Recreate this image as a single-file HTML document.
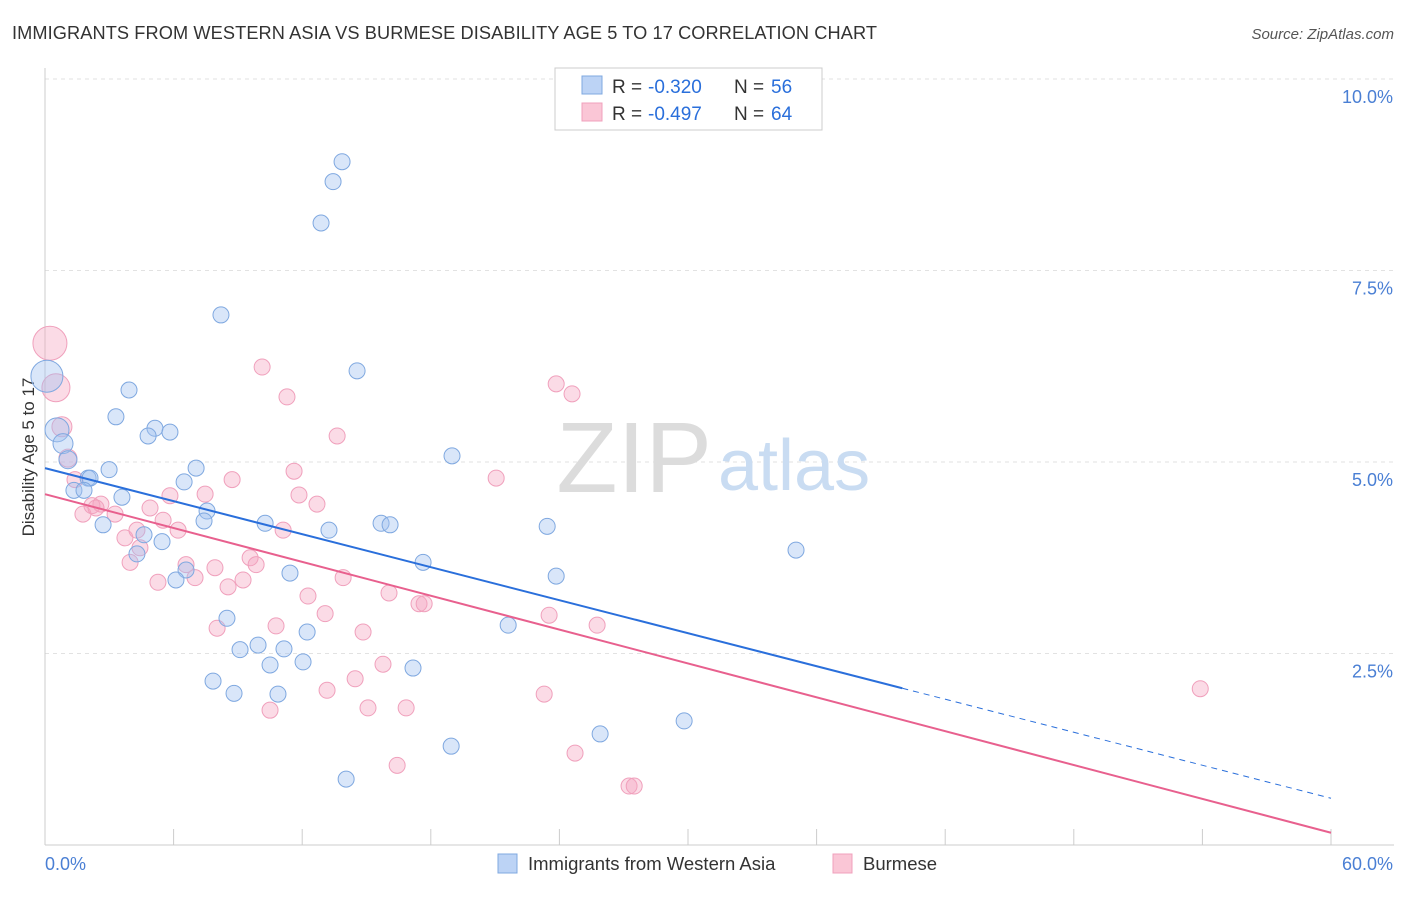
<!DOCTYPE html>
<html><head><meta charset="utf-8"><style>
body{margin:0;background:#fff;font-family:"Liberation Sans",sans-serif;}
svg text{font-family:"Liberation Sans",sans-serif;}
</style></head><body>
<svg width="1406" height="892" xmlns="http://www.w3.org/2000/svg">
<text x="12" y="39" font-size="18.2" fill="#333" textLength="865">IMMIGRANTS FROM WESTERN ASIA VS BURMESE DISABILITY AGE 5 TO 17 CORRELATION CHART</text>
<text x="1394" y="39" font-size="15" fill="#555" font-style="italic" text-anchor="end">Source: ZipAtlas.com</text>
<g id="grid"></g>
<text x="712" y="492" font-size="100" fill="#dcdcdc" text-anchor="end" font-family="Liberation Serif">ZIP</text>
<text x="718" y="490" font-size="72" fill="#c9dcf2">atlas</text>
<text transform="translate(34,457) rotate(-90)" font-size="17" fill="#333" text-anchor="middle">Disability Age 5 to 17</text>
<g id="pts"></g>
<g id="lines"></g>
<g>
<rect x="555" y="68" width="267" height="62" fill="#fff" stroke="#ccc"/>
<rect x="582" y="76" width="20" height="18" fill="#bcd3f5" stroke="#7fa8e0"/>
<rect x="582" y="103" width="20" height="18" fill="#fac6d6" stroke="#f0a0bc"/>
<text x="612" y="93" font-size="19" fill="#333">R =</text>
<text x="648" y="93" font-size="19" fill="#2a6fdb">-0.320</text>
<text x="734" y="93" font-size="19" fill="#333">N =</text>
<text x="771" y="93" font-size="19" fill="#2a6fdb">56</text>
<text x="612" y="120" font-size="19" fill="#333">R =</text>
<text x="648" y="120" font-size="19" fill="#2a6fdb">-0.497</text>
<text x="734" y="120" font-size="19" fill="#333">N =</text>
<text x="771" y="120" font-size="19" fill="#2a6fdb">64</text>
</g>
<g>
<rect x="498" y="854" width="19" height="19" fill="#bcd3f5" stroke="#7fa8e0"/>
<text x="528" y="870" font-size="18.5" fill="#333">Immigrants from Western Asia</text>
<rect x="833" y="854" width="19" height="19" fill="#fac6d6" stroke="#f0a0bc"/>
<text x="863" y="870" font-size="18.5" fill="#333">Burmese</text>
</g>
</svg>
<script>
const blueX=[13.86,13.44,12.88,8.21,14.56,3.92,3.31,5.13,5.83,4.81,0.56,0.84,1.07,2.99,2.01,2.10,7.05,6.49,1.35,1.82,3.59,7.56,7.42,2.71,10.27,13.25,15.68,16.10,18.99,23.43,4.62,5.46,4.29,17.64,11.43,23.85,6.58,6.11,35.04,8.49,12.23,21.61,9.94,11.15,9.10,10.50,12.04,17.17,7.84,8.82,10.87,29.82,25.90,18.95,14.05,0.09];
const blueY=[8.92,8.66,8.12,6.92,6.19,5.94,5.59,5.44,5.39,5.34,5.42,5.24,5.03,4.90,4.79,4.79,4.92,4.74,4.63,4.63,4.54,4.36,4.23,4.18,4.20,4.11,4.20,4.18,5.08,4.16,4.05,3.96,3.80,3.69,3.55,3.51,3.59,3.46,3.85,2.96,2.78,2.87,2.61,2.56,2.55,2.35,2.39,2.31,2.14,1.98,1.97,1.62,1.45,1.29,0.86,6.12];
const blueR=[8,8,8,8,8,8,8,8,8,8,12,10,9,8,8,8,8,8,8,8,8,8,8,8,8,8,8,8,8,8,8,8,8,8,8,8,8,8,8,8,8,8,8,8,8,8,8,8,8,8,8,8,8,8,8,16];
const pinkX=[0.23,0.51,0.79,1.07,1.40,1.77,2.19,2.61,3.27,2.38,3.73,3.97,4.43,4.29,4.90,5.27,5.83,5.51,6.21,6.58,7.00,7.47,7.93,8.03,8.54,8.73,9.24,9.57,9.85,10.13,10.50,10.78,11.11,11.29,11.62,11.85,12.27,12.69,13.07,13.16,13.63,13.91,14.47,14.84,15.07,15.77,16.05,16.85,16.43,17.45,17.69,21.05,23.85,24.59,23.52,23.29,24.73,25.76,27.25,27.49,53.90];
const pinkY=[6.55,5.97,5.46,5.05,4.77,4.32,4.43,4.45,4.32,4.40,4.01,3.69,3.88,4.11,4.40,3.43,4.56,4.24,4.11,3.66,3.49,4.58,3.62,2.83,3.37,4.77,3.46,3.75,3.66,6.24,1.76,2.86,4.11,5.85,4.88,4.57,3.25,4.45,3.02,2.02,5.34,3.49,2.17,2.78,1.79,2.36,3.29,1.79,1.04,3.15,3.15,4.79,6.02,5.89,3.00,1.97,1.20,2.87,0.77,0.77,2.04];
const pinkR=[17,14,10,9,8,8,8,8,8,8,8,8,8,8,8,8,8,8,8,8,8,8,8,8,8,8,8,8,8,8,8,8,8,8,8,8,8,8,8,8,8,8,8,8,8,8,8,8,8,8,8,8,8,8,8,8,8,8,8,8,8];
const yTicks=[2.5,5.0,7.5,10.0];
const xTickCount=10;
const blueLine=[4.92,0.61], blueSolidEnd=40;
const pinkLine=[4.58,0.16];
const NS="http://www.w3.org/2000/svg";
const sx=v=>45+v*(1331-45)/60, sy=v=>845-v*(845-79)/10;
function mk(t,a,p){const e=document.createElementNS(NS,t);for(const k in a)e.setAttribute(k,a[k]);p.appendChild(e);return e;}
const grid=document.getElementById('grid');
yTicks.forEach(t=>{
 const l=mk('line',{x1:45,x2:1394,y1:sy(t),y2:sy(t),stroke:'#e2e2e2','stroke-dasharray':'4,4'},grid);
 
 
 const tx=mk('text',{x:1393,y:sy(t)+24,'font-size':18,fill:'#4a7fd4','text-anchor':'end'},grid);
 tx.textContent=t.toFixed(1)+'%';
 
 
});
const ax=mk('line',{x1:45,x2:45,y1:68,y2:845,stroke:'#ccc'},grid);


const bx=mk('line',{x1:45,x2:1394,y1:845,y2:845,stroke:'#ccc'},grid);


for(let i=1;i<=xTickCount;i++){const t=mk('line',{x1:sx(i*6),x2:sx(i*6),y1:829,y2:845,stroke:'#ccc'},grid);
 
 }
[[0,'0.0%',45,'start'],[60,'60.0%',1393,'end']].forEach(([v,s,x,a])=>{const t=mk('text',{x:x,y:870,'font-size':18,fill:'#4a7fd4','text-anchor':a},grid);t.textContent=s;
 
 });
const pts=document.getElementById('pts');
pinkX.forEach((x,i)=>{const c=mk('circle',{cx:sx(x),cy:sy(pinkY[i]),r:pinkR[i],fill:'rgba(245,165,192,0.4)',stroke:'#f0a0bc','stroke-width':1},pts);
 
 });
blueX.forEach((x,i)=>{const c=mk('circle',{cx:sx(x),cy:sy(blueY[i]),r:blueR[i],fill:'rgba(160,192,240,0.4)',stroke:'#7fa8e0','stroke-width':1},pts);
 
 });
const L=document.getElementById('lines');
const bl=v=>blueLine[0]+(blueLine[1]-blueLine[0])*v/60;
let e=mk('line',{x1:sx(0),y1:sy(bl(0)),x2:sx(blueSolidEnd),y2:sy(bl(blueSolidEnd)),stroke:'#2a6fdb','stroke-width':2},L);


e=mk('line',{x1:sx(blueSolidEnd),y1:sy(bl(blueSolidEnd)),x2:sx(60),y2:sy(bl(60)),stroke:'#2a6fdb','stroke-width':1,'stroke-dasharray':'6,5'},L);


e=mk('line',{x1:sx(0),y1:sy(pinkLine[0]),x2:sx(60),y2:sy(pinkLine[1]),stroke:'#e8608e','stroke-width':2},L);


</script>
</body></html>
